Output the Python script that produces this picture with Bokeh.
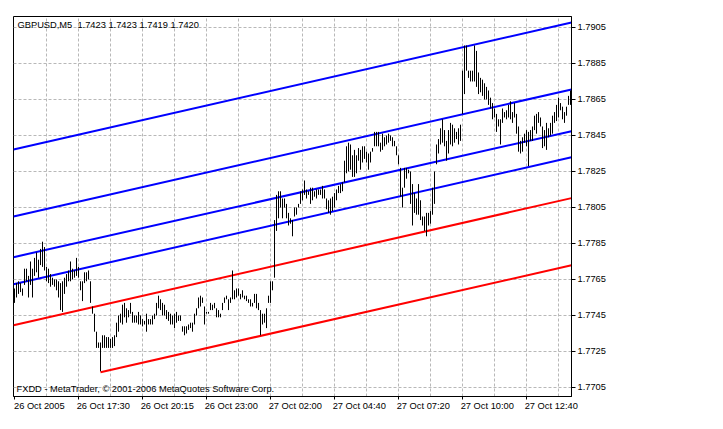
from bokeh.plotting import figure
from bokeh.models import Range1d, FixedTicker, Label, NumeralTickFormatter, LinearAxis
from bokeh.embed import file_html
from bokeh.resources import INLINE

# ---------------- data ----------------
PIP = 0.0001
BASE = 1.7700          # prices below are given in pips above this level

high_pips = [60, 63, 64, 63, 60, 71, 71, 67, 75, 71, 77, 80, 76, 82, 86, 83, 72, 71, 68, 66,
             65, 65, 64, 63, 64, 66, 68, 70, 75, 71, 70, 77, 72, 64, 64, 69, 69, 70, 64, 50,
             46, 36, 30, 30, 34, 34, 33, 33, 32, 33, 34, 41, 45, 46, 51, 52, 49, 48, 52, 47,
             45, 45, 47, 45, 43, 42, 46, 43, 43, 45, 46, 52, 56, 54, 52, 51, 48, 47, 46, 45,
             46, 47, 45, 45, 39, 39, 39, 40, 41, 41, 46, 49, 55, 56, 55, 50, 47, 47, 52, 51,
             52, 49, 48, 46, 52, 55, 56, 54, 55, 70, 59, 60, 60, 57, 59, 56, 56, 54, 54, 52,
             57, 57, 52, 48, 46, 46, 49, 56, 64, 64, 98, 112, 114, 114, 110, 110, 107, 102, 99, 98,
             105, 105, 107, 114, 115, 120, 115, 114, 116, 116, 114, 115, 115, 115, 117, 115, 110, 109, 110, 111,
             113, 115, 117, 118, 119, 131, 139, 141, 140, 134, 137, 134, 138, 137, 139, 139, 136, 135, 136, 138,
             147, 147, 147, 141, 146, 144, 145, 146, 145, 144, 142, 139, 134, 127, 116, 127, 127, 126, 125, 118,
             113, 110, 118, 109, 100, 100, 102, 102, 103, 116, 125, 140, 143, 149, 154, 148, 142, 148, 152, 151,
             149, 147, 149, 151, 181, 195, 195, 181, 181, 181, 195, 192, 180, 177, 176, 174, 172, 170, 166, 163,
             160, 157, 154, 154, 160, 158, 159, 162, 164, 158, 163, 157, 150, 142, 144, 146, 148, 147, 148, 150,
             156, 157, 158, 155, 150, 148, 152, 149, 152, 156, 158, 162, 166, 163, 161, 158, 161, 167, 170]

low_pips = [52, 55, 57, 58, 56, 62, 64, 55, 62, 55, 67, 69, 66, 73, 72, 70, 64, 63, 61, 62,
            61, 59, 55, 48, 47, 57, 61, 64, 64, 65, 66, 67, 66, 59, 53, 63, 64, 65, 52, 46,
            36, 27, 27, 14, 27, 27, 27, 27, 27, 27, 28, 33, 36, 41, 40, 44, 41, 44, 46, 41,
            41, 41, 40, 40, 39, 40, 36, 40, 40, 40, 43, 45, 49, 48, 45, 45, 43, 42, 40, 40,
            38, 41, 42, 42, 36, 34, 35, 37, 38, 36, 40, 45, 49, 50, 52, 40, 46, 46, 48, 48,
            49, 44, 44, 44, 48, 52, 54, 48, 52, 54, 54, 55, 56, 54, 55, 54, 53, 52, 50, 50,
            52, 49, 48, 34, 40, 41, 38, 52, 52, 59, 66, 92, 99, 105, 99, 105, 99, 95, 96, 89,
            100, 101, 105, 107, 109, 112, 110, 112, 107, 109, 111, 110, 112, 112, 110, 110, 104, 102, 101, 103,
            105, 109, 113, 113, 114, 119, 124, 125, 126, 122, 122, 124, 131, 126, 130, 132, 130, 126, 130, 136,
            139, 139, 139, 136, 137, 139, 140, 141, 142, 139, 139, 134, 129, 111, 105, 116, 121, 124, 107, 95,
            102, 101, 101, 98, 95, 92, 89, 95, 96, 101, 107, 129, 135, 140, 141, 139, 131, 135, 140, 139,
            141, 143, 140, 142, 157, 168, 181, 177, 175, 175, 175, 172, 168, 169, 167, 165, 165, 162, 160, 154,
            155, 147, 150, 140, 152, 155, 154, 155, 154, 152, 155, 146, 136, 135, 136, 141, 139, 128, 142, 142,
            148, 146, 152, 150, 138, 139, 137, 144, 145, 146, 152, 153, 155, 159, 154, 152, 156, 162, 162]

bar_index = list(range(1, len(high_pips) + 1))
highs = [round(BASE + h * PIP, 4) for h in high_pips]
lows = [round(BASE + l * PIP, 4) for l in low_pips]

price_ticks = [1.7705, 1.7725, 1.7745, 1.7765, 1.7785, 1.7805,
               1.7825, 1.7845, 1.7865, 1.7885, 1.7905]
time_tick_bars = [1, 33, 65, 97, 129, 161, 193, 225, 257]
time_tick_labels = ["26 Oct 2005", "26 Oct 17:30", "26 Oct 20:15", "26 Oct 23:00",
                    "27 Oct 02:00", "27 Oct 04:40", "27 Oct 07:20", "27 Oct 10:00",
                    "27 Oct 12:40"]
grid_bars = [17, 33, 49, 65, 81, 97, 113, 129, 145, 161, 177, 193, 209, 225, 241, 257, 273]

# channel lines (start bar, end bar, start price, end price)
channel_x0 = [0.5, 0.5, 0.5, 0.5, 0.5, 44]
channel_x1 = [279.5, 279.5, 279.5, 279.5, 279.5, 279.5]
channel_y0 = [1.78372, 1.78000, 1.77774, 1.77624, 1.77396, 1.77135]
channel_y1 = [1.79078, 1.78706, 1.78474, 1.78329, 1.78102, 1.77729]
channel_colors = ["#0000ff", "#0000ff", "#0000ff", "#0000ff", "#ff0000", "#ff0000"]

header_text = "GBPUSD,M5\u00a0 1.7423 1.7423 1.7419 1.7420"
footer_text = "FXDD - MetaTrader, \u00a9 2001-2006 MetaQuotes Software Corp."

# ---------------- figure ----------------
FONT = "Liberation Sans"
FS = "9.3px"

p = figure(width=715, height=421,
           x_range=Range1d(0.5, 279.5), y_range=Range1d(1.7700, 1.79111),
           y_axis_location="right", output_backend="svg", toolbar_location=None,
           min_border_left=13, min_border_top=16, min_border_right=144, min_border_bottom=25)
p.background_fill_color = "white"
p.border_fill_color = "white"
p.outline_line_color = "black"
p.outline_line_width = 1

p.xgrid.ticker = FixedTicker(ticks=grid_bars)
p.ygrid.ticker = FixedTicker(ticks=price_ticks)
for g in (p.xgrid, p.ygrid):
    g.grid_line_color = "#b8b8b8"
    g.grid_line_dash = "3 2"
    g.grid_line_width = 1

# x axis 1: tick marks only
p.xaxis.ticker = FixedTicker(ticks=time_tick_bars)
p.xaxis.major_label_overrides = {b: "" for b in time_tick_bars}
p.xaxis.major_label_text_font_size = "0px"
p.xaxis.major_tick_out = 3
p.xaxis.major_tick_in = 0
p.xaxis.minor_tick_line_color = None
p.xaxis.axis_line_color = "black"
p.xaxis.major_tick_line_color = "black"
p.xaxis.major_label_standoff = 0

# x axis 2: left-aligned time labels (label centre = tick + half text width)
HALF_W = 12.9   # half label width, in bar units
label_centres = [round(b - 0.5 + HALF_W, 1) for b in time_tick_bars]
lab_axis = LinearAxis(ticker=FixedTicker(ticks=label_centres),
                      major_label_overrides={c: t for c, t in zip(label_centres, time_tick_labels)},
                      major_tick_line_color=None, minor_tick_line_color=None,
                      axis_line_color=None, major_tick_out=0, major_tick_in=0,
                      major_label_standoff=1, major_label_text_font=FONT,
                      major_label_text_font_size=FS, major_label_text_color="black")
p.add_layout(lab_axis, "below")

p.yaxis.ticker = FixedTicker(ticks=price_ticks)
p.yaxis.formatter = NumeralTickFormatter(format="0.0000")
p.yaxis.major_tick_out = 4
p.yaxis.major_tick_in = 0
p.yaxis.minor_tick_line_color = None
p.yaxis.axis_line_color = "black"
p.yaxis.major_tick_line_color = "black"
p.yaxis.major_label_standoff = 2
p.yaxis.major_label_text_font = FONT
p.yaxis.major_label_text_font_size = FS
p.yaxis.major_label_text_color = "black"

# channels
p.segment(x0=channel_x0, y0=channel_y0, x1=channel_x1, y1=channel_y1,
          line_color=channel_colors, line_width=2)

# price bars (high-low)
p.segment(x0=bar_index, y0=lows, x1=bar_index, y1=highs,
          line_color="black", line_width=1)

# texts
p.add_layout(Label(x=p.x_range.start, y=p.y_range.end, x_offset=4, y_offset=-8,
                   text=header_text, text_font=FONT, text_font_size=FS,
                   text_baseline="middle", text_align="left", text_color="black"))
p.add_layout(Label(x=p.x_range.start, y=p.y_range.start, x_offset=3, y_offset=8,
                   text=footer_text, text_font=FONT, text_font_size=FS,
                   text_baseline="middle", text_align="left", text_color="black"))

open("out.html", "w").write(file_html(p, INLINE))
